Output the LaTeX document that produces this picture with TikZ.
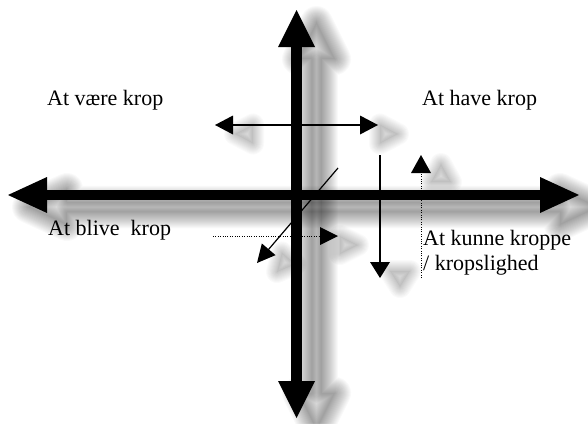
\documentclass[tikz,border=0pt]{standalone}
\usepackage{fontspec}
\setmainfont{Liberation Serif}
\usetikzlibrary{calc}
\newcommand{\mkhead}[5]{% name, tip, from, length, halfwidth
  \coordinate (#1b) at ($(#2)!#4!(#3)$);
  \coordinate (#1l) at ($(#1b)!#5!90:(#2)$);
  \coordinate (#1r) at ($(#1b)!#5!-90:(#2)$);}
\begin{document}
\begin{tikzpicture}[x=1pt,y=-1pt,
  lbl/.style={anchor=base west, inner sep=0pt, font=\fontsize{22}{25}\selectfont},
  axisline/.style={line width=10.5pt},
  thinline/.style={line width=1.2pt},
  dotline/.style={line width=1pt, dash pattern=on 1pt off 1.4pt},
  headfill/.style={fill=black},
  shadowcore/.style={fill=black, opacity=0.04},
  shadowring/.style={draw=black, opacity=0.022, line join=round},
]
\useasboundingbox (0,0) rectangle (588,423);
\fill[white] (0,0) rectangle (588,423);

% axis end points
\coordinate (VT) at (296.5,10);
\coordinate (VB) at (296.5,418);
\coordinate (HL) at (8,195);
\coordinate (HR) at (579,195);
% thin arrows
\coordinate (DL) at (215,125);
\coordinate (DR) at (378,125);
\coordinate (DS) at (380,155);
\coordinate (DT) at (380,278);
\coordinate (GS) at (338,168);
\coordinate (GT) at (257,263);
\coordinate (PS) at (213,236);
\coordinate (PT) at (338,236);
\coordinate (QS) at (421,278);
\coordinate (QT) at (421,155);

\mkhead{hvt}{VT}{VB}{37pt}{18.5pt}
\mkhead{hvb}{VB}{VT}{37pt}{18.5pt}
\mkhead{hhl}{HL}{HR}{39pt}{18pt}
\mkhead{hhr}{HR}{HL}{39pt}{18pt}
\mkhead{hdl}{DL}{DR}{18pt}{9.5pt}
\mkhead{hdr}{DR}{DL}{18pt}{9.5pt}
\mkhead{hdt}{DT}{DS}{16pt}{10pt}
\mkhead{hgt}{GT}{GS}{18pt}{9pt}
\mkhead{hpt}{PT}{PS}{18pt}{9pt}
\mkhead{hqt}{QT}{QS}{18pt}{10pt}

% ---- soft shadows of the axes ----
\begin{scope}[transform canvas={shift={(20pt,-12pt)}}]
  \fill[shadowcore] (296.5,10) -- (315,47) -- (301.75,47) -- (301.75,381) -- (315,381) -- (296.5,418) -- (278,381) -- (291.25,381) -- (291.25,47) -- (278,47) -- cycle;
  \fill[shadowcore] (8,195) -- (47,177) -- (47,189.75) -- (540,189.75) -- (540,177) -- (579,195) -- (540,213) -- (540,200.25) -- (47,200.25) -- (47,213) -- cycle;
  \foreach \w in {2,4,...,32}{
    \draw[shadowring, line width=\w pt] (296.5,10) -- (315,47) -- (301.75,47) -- (301.75,381) -- (315,381) -- (296.5,418) -- (278,381) -- (291.25,381) -- (291.25,47) -- (278,47) -- cycle;
    \draw[shadowring, line width=\w pt] (8,195) -- (47,177) -- (47,189.75) -- (540,189.75) -- (540,177) -- (579,195) -- (540,213) -- (540,200.25) -- (47,200.25) -- (47,213) -- cycle;
  }
\end{scope}

% ---- soft shadows of the small arrow heads ----
\begin{scope}[transform canvas={shift={(20pt,-9pt)}}]
  \foreach \w in {2,4,...,22}{
    \draw[shadowring, opacity=0.02, line width=\w pt]
      (DL) -- (hdll) -- (hdlr) -- cycle
      (DR) -- (hdrl) -- (hdrr) -- cycle
      (DT) -- (hdtl) -- (hdtr) -- cycle
      (GT) -- (hgtl) -- (hgtr) -- cycle
      (PT) -- (hptl) -- (hptr) -- cycle
      (QT) -- (hqtl) -- (hqtr) -- cycle;
  }
  \fill[shadowcore]
      (DL) -- (hdll) -- (hdlr) -- cycle
      (DR) -- (hdrl) -- (hdrr) -- cycle
      (DT) -- (hdtl) -- (hdtr) -- cycle
      (GT) -- (hgtl) -- (hgtr) -- cycle
      (PT) -- (hptl) -- (hptr) -- cycle
      (QT) -- (hqtl) -- (hqtr) -- cycle;
\end{scope}

% ---- axes ----
\draw[axisline, shorten <=35pt, shorten >=35pt] (VB) -- (VT);
\draw[axisline, shorten <=37pt, shorten >=37pt] (HL) -- (HR);
\fill[headfill] (VT) -- (hvtl) -- (hvtr) -- cycle;
\fill[headfill] (VB) -- (hvbl) -- (hvbr) -- cycle;
\fill[headfill] (HL) -- (hhll) -- (hhlr) -- cycle;
\fill[headfill] (HR) -- (hhrl) -- (hhrr) -- cycle;

% ---- thin arrows ----
\draw[thinline, shorten <=16pt, shorten >=16pt] (DL) -- (DR);
\fill[headfill] (DL) -- (hdll) -- (hdlr) -- cycle;
\fill[headfill] (DR) -- (hdrl) -- (hdrr) -- cycle;

\draw[thinline, shorten >=14pt] (DS) -- (DT);
\fill[headfill] (DT) -- (hdtl) -- (hdtr) -- cycle;

\draw[thinline, shorten >=16pt] (GS) -- (GT);
\fill[headfill] (GT) -- (hgtl) -- (hgtr) -- cycle;

\draw[dotline, shorten >=16pt] (PS) -- (PT);
\fill[headfill] (PT) -- (hptl) -- (hptr) -- cycle;

\draw[dotline, shorten >=16pt] (QS) -- (QT);
\fill[headfill] (QT) -- (hqtl) -- (hqtr) -- cycle;

% ---- labels ----
\node[lbl] (vaere) at (47,105) {At være krop};
\node[lbl] (have) at (422,105) {At have krop};
\node[lbl] (blive) at (48,235) {At blive\ \ krop};
\node[lbl] (kunne) at (423,245) {At kunne kroppe};
\node[lbl] (krops) at (423,270) {/ kropslighed};
\end{tikzpicture}
\end{document}
